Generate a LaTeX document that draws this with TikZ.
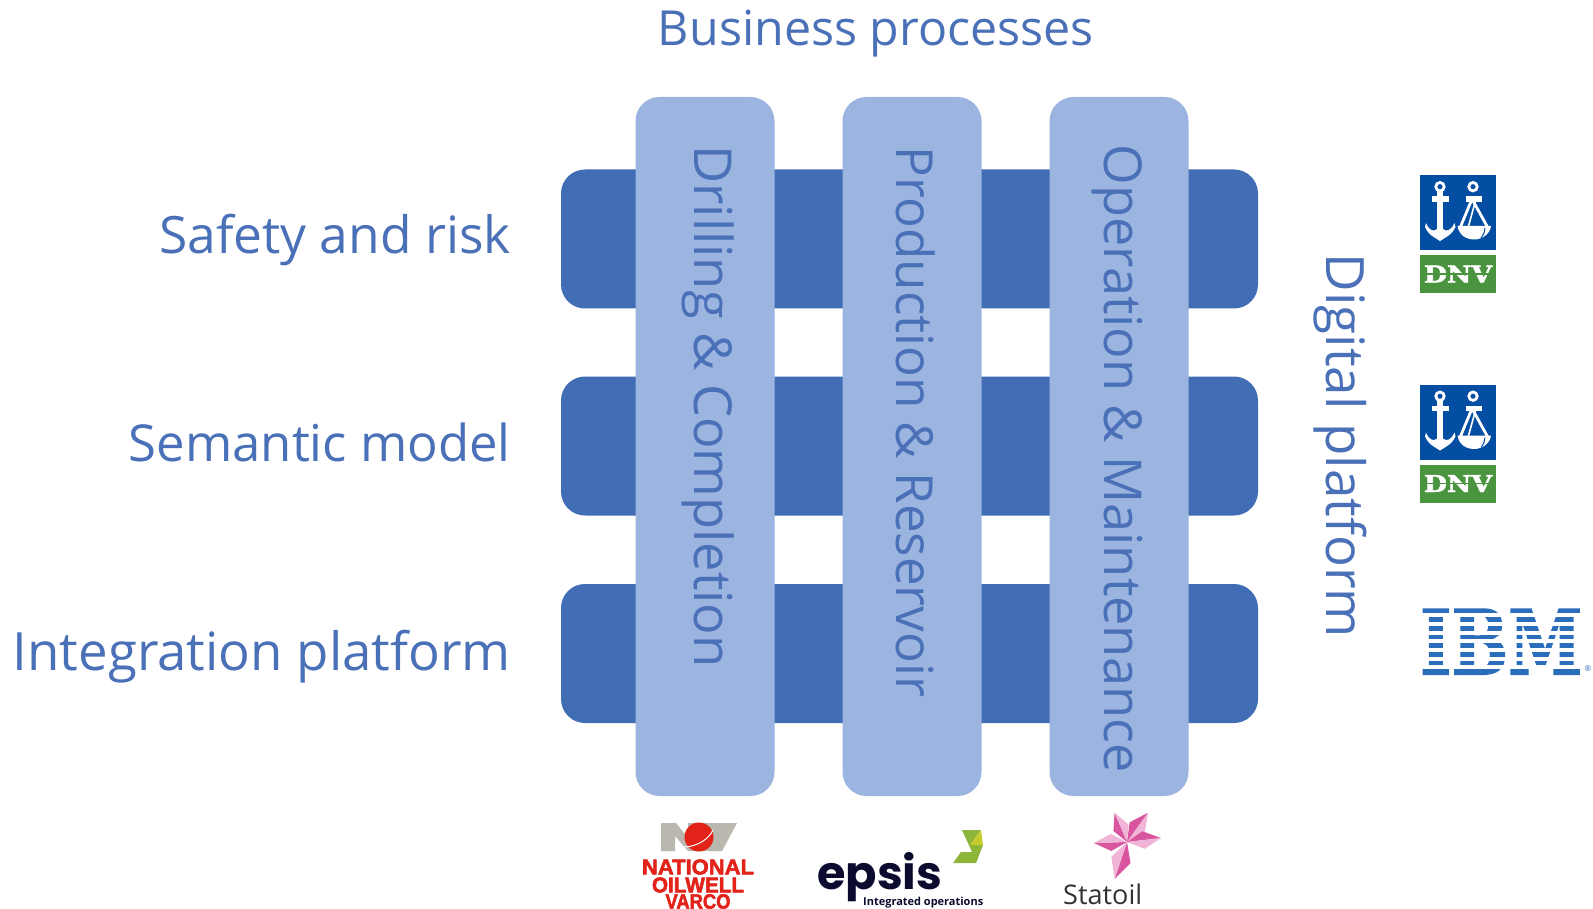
\documentclass[tikz,border=0pt]{standalone}
\usepackage{graphicx}
\usepackage{fontspec}
\setmainfont{Open Sans}
\newfontfamily\slabfont[BoldFeatures={FakeBold=2}]{DejaVu Serif}
\newfontfamily\heavyfont[BoldFeatures={FakeBold=2.5}]{Liberation Sans}
\newfontfamily\roundfont{Poppins}
\usetikzlibrary{calc}
\definecolor{txtblue}{HTML}{4A70B8}
\definecolor{barDark}{HTML}{416DB5}
\definecolor{barLight}{HTML}{9BB5E0}
\definecolor{dnvBlue}{HTML}{034EA2}
\definecolor{dnvGreen}{HTML}{4A9440}
\definecolor{ibmBlue}{HTML}{2A6EBB}
\definecolor{novRed}{HTML}{E2231A}
\definecolor{novGray}{HTML}{B9B7AE}
\definecolor{epsisNavy}{HTML}{0B0B30}
\definecolor{epsisGreen}{HTML}{8DB53A}
\definecolor{epsisLime}{HTML}{C3CC2C}
\definecolor{starDark}{HTML}{D9559F}
\definecolor{starLight}{HTML}{F0B4D6}
\newcommand{\fitw}[2]{\resizebox{#1pt}{!}{#2}}
\tikzset{
  hbar/.style={fill=barDark,draw=none,rounded corners=24pt,minimum width=697pt,minimum height=139pt,inner sep=0pt},
  vbar/.style={fill=barLight,draw=none,rounded corners=24pt,minimum width=139pt,minimum height=699pt,inner sep=0pt},
  bigtext/.style={text=txtblue,inner sep=0pt,font=\fontsize{46}{50}\selectfont},
  rowlabel/.style={bigtext,anchor=base east},
  collabel/.style={bigtext,rotate=-90,anchor=base},
  stripe/.style={fill=white,draw=none},
}
\newcommand{\dnvlogo}[2]{%
  \begin{scope}[shift={(0,#1)}]
    \node[fill=dnvBlue,minimum width=76pt,minimum height=75pt,inner sep=0pt] (#2blue) at (1458,212.5) {};
    \node[fill=dnvGreen,minimum width=76pt,minimum height=38pt,inner sep=0pt] (#2green) at (1458,274) {};
    % anchor
    \draw[white,line width=2.8pt] (1440,186.7) circle (4.2pt);
    \fill[white] (1436.8,191) rectangle (1443.2,236);
    \fill[white] (1431.7,196) rectangle (1449.3,201.7);
    \fill[white] (1426,223) .. controls (1429,231) and (1434,232) .. (1437,229) -- (1443,229) .. controls (1446,232) and (1451,231) .. (1454.5,223) -- (1455.5,227) .. controls (1451,236) and (1444,238) .. (1440,241) .. controls (1436,238) and (1429,236) .. (1425,227) -- cycle;
    % scales
    \draw[white,line width=2.8pt] (1473,186.7) circle (4.2pt);
    \fill[white] (1465.7,196) rectangle (1481.7,201.7);
    \draw[white,line width=2.8pt,line join=round] (1460,228) -- (1472,199) -- (1488,228);
    \draw[white,line width=1.6pt] (1476,199) -- (1468,228);
    \fill[white] (1457.5,226) -- (1491,226) .. controls (1490,234) and (1482,239) .. (1476,239.5) .. controls (1466,240) and (1459,235) .. (1457.5,226) -- cycle;
    \draw[dnvBlue,line width=1pt] (1481,238) .. controls (1484,234) and (1485,231) .. (1485,228);
    \node[inner sep=0pt,text=white] (#2name) at (#2green) {\resizebox{68pt}{17pt}{\slabfont\bfseries DNV}};
    \draw[dnvGreen,line width=1.1pt] (1424,274) -- (1492,274);
  \end{scope}}
\begin{document}
\begin{tikzpicture}[x=1pt,y=-1pt]
\useasboundingbox (0,0) rectangle (1593,909);
\fill[white] (0,0) rectangle (1593,909);
% horizontal bars
\node[hbar] (h1) at (909.5,239) {};
\node[hbar] (h2) at (909.5,446) {};
\node[hbar] (h3) at (909.5,653.5) {};
% vertical bars
\node[vbar] (v1) at (705,446.5) {};
\node[vbar] (v2) at (912,446.5) {};
\node[vbar] (v3) at (1119,446.5) {};
% texts
\node[bigtext,anchor=base] (title) at (876,45.5) {\fitw{436}{Business processes}};
\node[rowlabel] (r1) at (511,254) {\fitw{351.5}{Safety and risk}};
\node[rowlabel] (r2) at (511,461) {\fitw{382}{Semantic model}};
\node[rowlabel] (r3) at (511,670.5) {\fitw{498}{Integration platform}};
\node[collabel] (c1) at (694,406.5) {\fitw{522}{Drilling \& Completion}};
\node[collabel] (c2) at (896,422) {\fitw{550}{Production \& Reservoir}};
\node[collabel] (c3) at (1104,459) {\fitw{628}{Operation \& Maintenance}};
\node[collabel] (c4) at (1326,446) {\fitw{384}{Digital platform}};
% DNV logos
\dnvlogo{0}{dnva}
\dnvlogo{209.5}{dnvb}
% IBM
\node[inner sep=0pt,text=ibmBlue,anchor=north west] (ibm) at (1420,609) {\resizebox{162pt}{65pt}{\slabfont\bfseries IBM}};
\foreach \yy in {0,...,6}{\fill[stripe] (1418,{613.4+8.65*\yy}) rectangle (1584,{617.4+8.65*\yy});}
\node[inner sep=0pt,text=ibmBlue,font=\fontsize{8}{9}\selectfont] (reg) at (1588,669) {®};
% NOV
\fill[novGray] (661,823) -- (676,823) -- (688,838) -- (688,823) -- (737,823) -- (722,851) -- (708,851) -- (688,851) -- (675,836) -- (675,851) -- (661,851) -- cycle;
\node[circle,fill=novRed,minimum size=29pt,inner sep=0pt] (novdot) at (699,837) {};
\draw[white,line width=1pt] (684,847) .. controls (694,847) and (708,841) .. (713,830);
\node[inner sep=0pt,text=novRed] (nov1) at (698,867) {\resizebox{112pt}{15pt}{\heavyfont\bfseries NATIONAL}};
\node[inner sep=0pt,text=novRed] (nov2) at (698,885) {\resizebox{92pt}{15pt}{\heavyfont\bfseries OILWELL}};
\node[inner sep=0pt,text=novRed] (nov3) at (698,901.5) {\resizebox{65pt}{14.5pt}{\heavyfont\bfseries VARCO}};
% epsis
\node[inner sep=0pt,text=epsisNavy,anchor=base west,font=\fontsize{58}{60}\selectfont\roundfont\bfseries] (epsis) at (817,889) {\resizebox{125pt}{!}{epsis}};
\node[inner sep=0pt,text=epsisNavy,anchor=base west,font=\bfseries] (epsis2) at (863,905) {\fitw{120}{\fontsize{11.5}{12}\selectfont Integrated operations}};
\fill[epsisGreen] (962,830) -- (981,830) -- (970,845) -- (983,845) -- (976,863) -- (953,863) -- (961,852) -- (972,852) -- cycle;
\fill[epsisLime] (981,830) -- (983,845) -- (970,845) -- cycle;
% Statoil
\coordinate (sc) at (1127,842);
\foreach \tx/\ty in {1114.6/812.7,1148/812.7,1161/838,1114.6/879,1094/843}{
  \coordinate (tip) at (\tx,\ty);
  \fill[starDark] (sc) -- ($(sc)!0.55!28:(tip)$) -- (tip) -- cycle;
  \fill[starLight] (sc) -- ($(sc)!0.55!-28:(tip)$) -- (tip) -- cycle;
}
\node[inner sep=0pt,text=black!80,anchor=base west,font=\fontsize{29}{30}\selectfont] (statoil) at (1063,904) {\resizebox{79pt}{!}{Statoil}};
\end{tikzpicture}
\end{document}
